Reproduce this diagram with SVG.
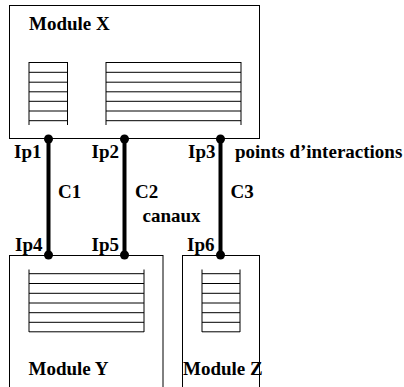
<svg xmlns="http://www.w3.org/2000/svg" width="404" height="387" viewBox="0 0 404 387">
<style>
.box{fill:#fff;stroke:#000;stroke-width:1}
.st{fill:none;stroke:#000;stroke-width:1}
text{font-family:'Liberation Serif','Times New Roman',Times,serif;font-weight:700;font-size:19px;fill:#000}
.ch{stroke:#000;stroke-width:4;fill:none}
.ip{fill:#000}
</style>
<g id="moduleX">
<rect class="box" x="9.5" y="5.5" width="250" height="133"/>
<text x="29" y="30">Module X</text>
<g class="st">
<path d="M29,62V125 M67.5,62V125 M29,62.5H67.5 M29,72.3H67.5 M29,82.2H67.5 M29,91.8H67.5 M29,101.3H67.5 M29,111H67.5 M29,120.7H67.5"/>
<path d="M106,62V125 M241,62V125 M106,62.5H241 M106,72.3H241 M106,82.2H241 M106,91.8H241 M106,101.3H241 M106,111H241 M106,120.7H241"/>
</g>
</g>
<g id="moduleY">
<rect class="box" x="9.5" y="255.5" width="153.5" height="140"/>
<text x="28.5" y="375">Module Y</text>
<path class="st" d="M29,269.5V332 M144,269.5V332 M29,273.7H144 M29,283.5H144 M29,293.3H144 M29,303H144 M29,312.7H144 M29,322.3H144 M29,331.8H144"/>
</g>
<g id="moduleZ">
<rect class="box" x="182.5" y="255.5" width="77" height="140"/>
<text x="183" y="375">Module Z</text>
<path class="st" d="M202,269.5V332 M240,269.5V332 M202,273.7H240 M202,283.5H240 M202,293.3H240 M202,303H240 M202,312.7H240 M202,322.3H240 M202,331.8H240"/>
</g>
<g id="connectors">
<line class="ch" x1="48.5" y1="139" x2="48.5" y2="255"/>
<line class="ch" x1="124.5" y1="139" x2="124.5" y2="255"/>
<line class="ch" x1="220.5" y1="139" x2="220.5" y2="255"/>
<circle class="ip" cx="48.5" cy="139" r="4.5"/>
<circle class="ip" cx="124.5" cy="139" r="4.5"/>
<circle class="ip" cx="220.5" cy="139" r="4.5"/>
<circle class="ip" cx="48.5" cy="255" r="4.5"/>
<circle class="ip" cx="124.5" cy="255" r="4.5"/>
<circle class="ip" cx="220.5" cy="255" r="4.5"/>
</g>
<g id="labels">
<text x="14" y="158">Ip1</text>
<text x="91.5" y="158">Ip2</text>
<text x="188" y="158">Ip3</text>
<text x="235" y="158">points d’interactions</text>
<text x="58" y="197.5">C1</text>
<text x="135" y="197.5">C2</text>
<text x="230.5" y="197.5">C3</text>
<text x="142.5" y="221.5">canaux</text>
<text x="15" y="250.5">Ip4</text>
<text x="91.5" y="250.5">Ip5</text>
<text x="187" y="250.5">Ip6</text>
</g>
</svg>
